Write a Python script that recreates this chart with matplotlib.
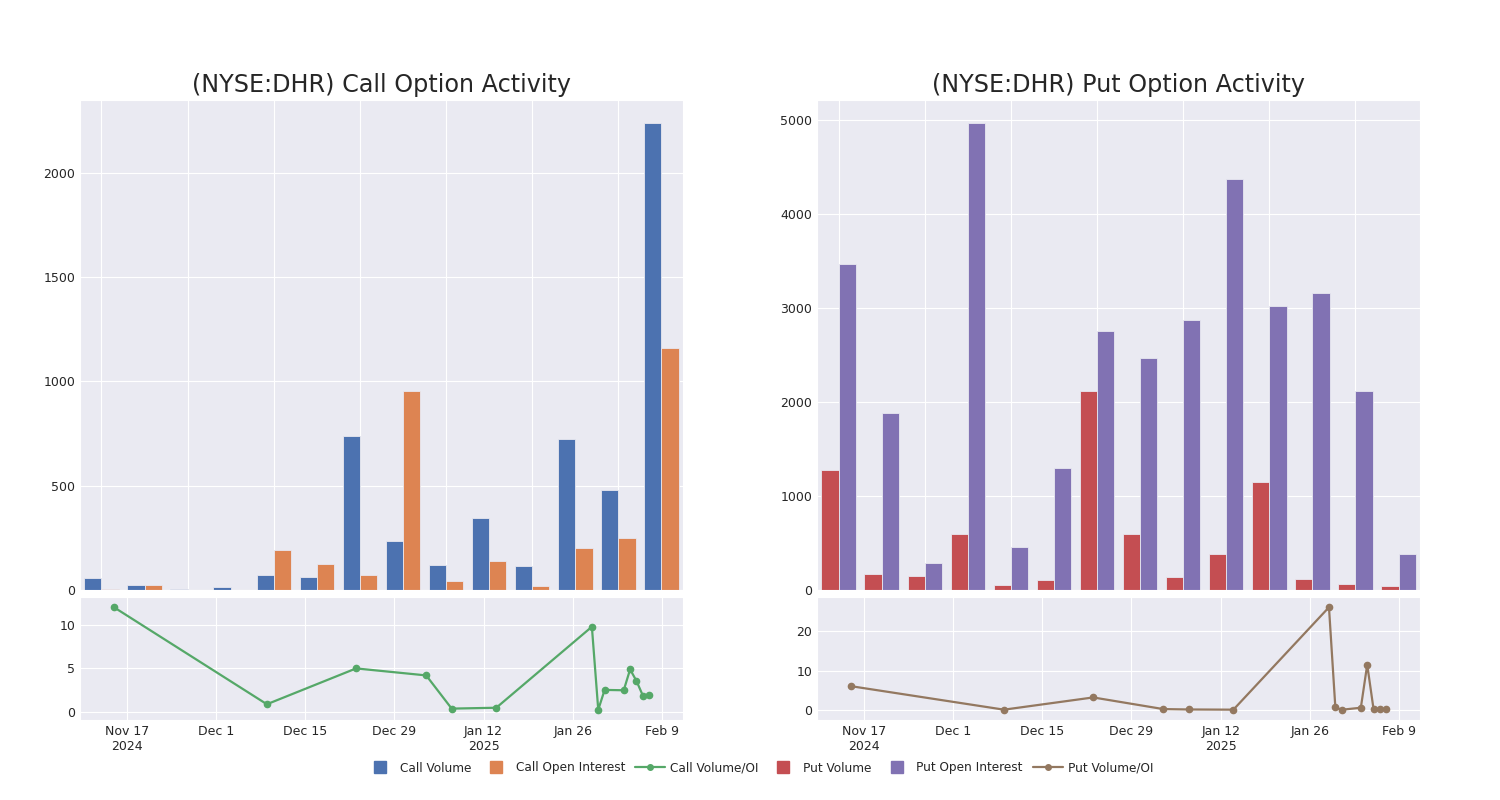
"""Call and put option activity for NYSE:DHR."""

import matplotlib

matplotlib.use("Agg")
import matplotlib.pyplot as plt
import numpy as np
import pandas as pd
import seaborn as sns

sns.set_style("darkgrid")
plt.rcParams["font.family"] = ["DejaVu Sans"]

# Bar groups (one per trading snapshot)
call_volume = [57, 22, 7, 13, 72, 64, 740, 235, 118, 345, 115, 724, 478, 2238]
call_oi = [3, 25, 1, 2, 192, 124, 73, 954, 45, 139, 21, 203, 251, 1160]
put_volume = [1280, 165, 150, 600, 55, 108, 2111, 595, 135, 385, 1150, 118, 60, 46]
put_oi = [3465, 1880, 285, 4960, 460, 1298, 2752, 2465, 2870, 4372, 3018, 3157, 2112, 385]

# Volume / open interest ratio over time
ratio_dates = pd.to_datetime([
    "2024-11-15", "2024-12-09", "2024-12-23", "2025-01-03", "2025-01-07",
    "2025-01-14", "2025-01-29", "2025-01-30", "2025-01-31", "2025-02-03",
    "2025-02-04", "2025-02-05", "2025-02-06", "2025-02-07",
])
call_ratio = [12.0, 0.9, 5.0, 4.2, 0.4, 0.5, 9.77, 0.27, 2.54, 2.5, 4.89, 3.56, 1.89, 1.93]
put_ratio = [6.05, 0.1, 3.2, 0.25, 0.15, 0.1, 26.05, 0.67, 0.08, 0.59, 11.5, 0.17, 0.17, 0.25]

tick_dates = pd.to_datetime([
    "2024-11-17", "2024-12-01", "2024-12-15", "2024-12-29",
    "2025-01-12", "2025-01-26", "2025-02-09",
])
x_range = pd.to_datetime(["2024-11-09 16:00", "2025-02-12 07:00"])

colors = {
    "blue": "#4C72B0", "orange": "#DD8452", "green": "#55A868",
    "red": "#C44E52", "purple": "#8172B3", "brown": "#937860",
}


def date_labels(dates):
    labels, last_year = [], None
    for d in dates:
        label = f"{d:%b} {d.day}"
        if d.year != last_year:
            label += f"\n{d.year}"
            last_year = d.year
        labels.append(label)
    return labels


def plot_panel(ax_bar, ax_line, vol, oi, ratio, c_vol, c_oi, c_line, title, yticks):
    x = np.arange(len(vol))
    w = 0.4
    ax_bar.bar(x - w / 2, vol, w, color=c_vol, edgecolor="#e8e8f0", linewidth=0.6)
    ax_bar.bar(x + w / 2, oi, w, color=c_oi, edgecolor="#e8e8f0", linewidth=0.6)
    ax_bar.set_xlim(-0.5, len(vol) - 0.5)
    ax_bar.set_xticks(x[::2])
    ax_bar.set_xticklabels([])
    ax_bar.tick_params(axis="x", length=0)
    ax_bar.tick_params(axis="y", labelsize=9, length=0, colors="#262626")
    ax_bar.set_title(title, fontsize=17.2, color="#262626", pad=6)

    ax_line.plot(ratio_dates, ratio, color=c_line, marker="o", markersize=4.5, linewidth=1.6)
    ax_line.margins(y=0.1)
    ax_line.set_xlim(x_range[0], x_range[1])
    ax_line.set_xticks(tick_dates)
    ax_line.set_xticklabels(date_labels(tick_dates))
    ax_line.set_yticks(yticks)
    ax_line.tick_params(labelsize=9, length=0, colors="#262626")


fig = plt.figure(figsize=(15, 8), dpi=100)
left_bar = fig.add_axes([0.0533, 0.2625, 0.402, 0.6125])
left_line = fig.add_axes([0.0533, 0.1, 0.402, 0.15375])
right_bar = fig.add_axes([0.5447, 0.2625, 0.402, 0.6125])
right_line = fig.add_axes([0.5447, 0.1, 0.402, 0.15375])

plot_panel(left_bar, left_line, call_volume, call_oi, call_ratio,
           colors["blue"], colors["orange"], colors["green"],
           "(NYSE:DHR) Call Option Activity", [0, 5, 10])
plot_panel(right_bar, right_line, put_volume, put_oi, put_ratio,
           colors["red"], colors["purple"], colors["brown"],
           "(NYSE:DHR) Put Option Activity", [0, 10, 20])


def square(c):
    return plt.Line2D([], [], color=c, marker="s", markersize=8, linestyle="none")


def line(c):
    return plt.Line2D([], [], color=c, marker="o", markersize=4, linewidth=1.6)


handles = [square(colors["blue"]), square(colors["orange"]), line(colors["green"]),
           square(colors["red"]), square(colors["purple"]), line(colors["brown"])]
labels = ["Call Volume", "Call Open Interest", "Call Volume/OI",
          "Put Volume", "Put Open Interest", "Put Volume/OI"]
fig.legend(handles, labels, loc="center", bbox_to_anchor=(0.506, 0.04), ncol=6,
           frameon=False, fontsize=8.7, handlelength=2.5, handletextpad=0.4,
           columnspacing=0.8)

plt.savefig("out.png", dpi=100)
plt.close()
